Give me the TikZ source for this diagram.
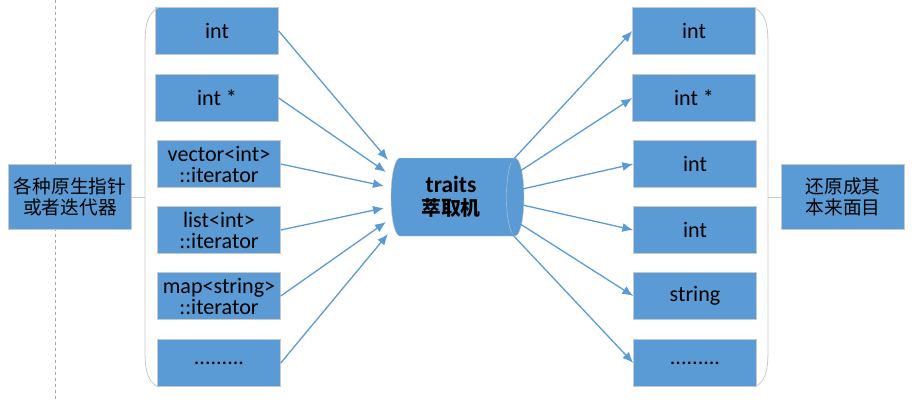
\documentclass[tikz,border=0pt]{standalone}
\usepackage{fontspec}
\setmainfont{Carlito}[Scale=1.3]
\newfontfamily\cjk{Noto Sans CJK SC}[Scale=1.1]
\usetikzlibrary{shapes.geometric,arrows.meta}
\definecolor{boxblue}{HTML}{5B9BD5}
\definecolor{edgegray}{HTML}{C8C8C8}
\tikzset{
  typebox/.style={draw=edgegray,fill=boxblue,minimum width=123,minimum height=47,
    inner sep=1pt,align=center,font=\fontsize{17}{21}\selectfont},
  flow/.style={draw=boxblue,line width=1.3pt,-{Latex[length=11pt,width=9pt]}},
  bracket/.style={draw=edgegray,thick}
}
\begin{document}
\begin{tikzpicture}[x=1pt,y=-1pt]
  \useasboundingbox (0,0) rectangle (915,402);
  \draw[gray!70,dashed] (55,0) -- (55,400);

  % left side
  \node[typebox,minimum height=65] (src) at (70,197) {\cjk 各种原生指针\\\cjk 或者迭代器};
  \node[typebox] (in1) at (217,31) {int};
  \node[typebox] (in2) at (217,98) {int *};
  \node[typebox] (in3) at (219,164) {vector<int>\\::iterator};
  \node[typebox] (in4) at (219,230) {list<int>\\::iterator};
  \node[typebox] (in5) at (219,296) {map<string>\\::iterator};
  \node[typebox] (in6) at (219,363) {.........};

  % the machine
  \node[cylinder,draw=edgegray,fill=boxblue,minimum width=78,minimum height=133,
    shape aspect=0.35,align=center,font=\fontsize{18}{23}\selectfont\bfseries]
    (trait) at (451,197) {traits\\\cjk 萃取机};

  % right side
  \node[typebox] (out1) at (694,31) {int};
  \node[typebox] (out2) at (694,98) {int *};
  \node[typebox] (out3) at (695,164) {int};
  \node[typebox] (out4) at (695,230) {int};
  \node[typebox] (out5) at (695,296) {string};
  \node[typebox] (out6) at (695,363) {.........};
  \node[typebox,minimum height=65] (dst) at (843,197) {\cjk 还原成其\\\cjk 本来面目};

  \draw[bracket] (158,8) .. controls (145,15) and (145,30) .. (145,50)
    -- (145,345) .. controls (145,365) and (145,380) .. (158,387);
  \draw[bracket] (src.east) -- (145,197);
  \draw[bracket] (755,8) .. controls (768,15) and (768,30) .. (768,50)
    -- (768,345) .. controls (768,365) and (768,380) .. (755,387);
  \draw[bracket] (dst.west) -- (768,197);

  \coordinate (l1) at (388,160);
  \coordinate (l2) at (386,172);
  \coordinate (l3) at (384,186);
  \coordinate (l4) at (384,208);
  \coordinate (l5) at (386,222);
  \coordinate (l6) at (388,234);
  \coordinate (r1) at (510,163);
  \coordinate (r2) at (514,175);
  \coordinate (r3) at (518,190);
  \coordinate (r4) at (518,204);
  \coordinate (r5) at (514,220);
  \coordinate (r6) at (510,232);
  \foreach \i in {1,...,6} {
    \draw[flow] (in\i.east) -- (l\i);
    \draw[flow] (r\i) -- (out\i.west);
  }
\end{tikzpicture}
\end{document}
